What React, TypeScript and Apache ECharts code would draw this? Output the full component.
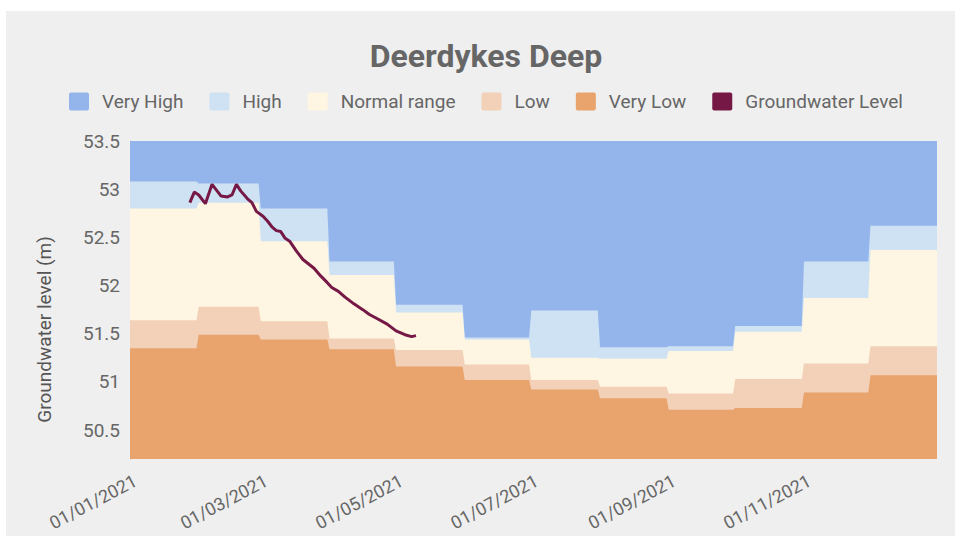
import { useEffect, useRef } from 'react';
import * as echarts from 'echarts';

// ---- data ----
const MONTHS = ['2021-01', '2021-02', '2021-03', '2021-04', '2021-05', '2021-06', '2021-07', '2021-08', '2021-09', '2021-10', '2021-11', '2021-12'];
// upper boundary of each band, per month (m)
const VERY_HIGH_TOP = [53.5, 53.5, 53.5, 53.5, 53.5, 53.5, 53.5, 53.5, 53.5, 53.5, 53.5, 53.5];
const HIGH_TOP = [53.08, 53.06, 52.8, 52.25, 51.8, 51.46, 51.74, 51.36, 51.37, 51.58, 52.25, 52.62];
const NORMAL_TOP = [52.8, 52.86, 52.46, 52.11, 51.72, 51.44, 51.25, 51.24, 51.32, 51.52, 51.87, 52.37];
const LOW_TOP = [51.64, 51.78, 51.63, 51.45, 51.33, 51.18, 51.02, 50.95, 50.88, 51.03, 51.19, 51.37];
const VERY_LOW_TOP = [51.35, 51.49, 51.44, 51.34, 51.16, 51.02, 50.92, 50.83, 50.71, 50.73, 50.89, 51.07];

const GW_DATES = ['2021-01-28', '2021-01-30', '2021-02-01', '2021-02-04', '2021-02-07', '2021-02-09', '2021-02-11', '2021-02-14', '2021-02-16', '2021-02-18', '2021-02-20', '2021-02-23', '2021-02-25', '2021-02-27', '2021-03-02', '2021-03-04', '2021-03-06', '2021-03-08', '2021-03-10', '2021-03-12', '2021-03-14', '2021-03-17', '2021-03-20', '2021-03-25', '2021-03-28', '2021-03-31', '2021-04-02', '2021-04-05', '2021-04-08', '2021-04-12', '2021-04-16', '2021-04-19', '2021-04-23', '2021-04-27', '2021-05-01', '2021-05-05', '2021-05-08', '2021-05-10'];
const GW_VALUES = [52.86, 52.97, 52.94, 52.85, 53.05, 52.99, 52.93, 52.92, 52.94, 53.05, 52.98, 52.9, 52.86, 52.77, 52.72, 52.67, 52.61, 52.57, 52.56, 52.49, 52.46, 52.36, 52.27, 52.18, 52.1, 52.03, 51.98, 51.94, 51.88, 51.81, 51.75, 51.7, 51.65, 51.6, 51.53, 51.49, 51.47, 51.48];

const X_TICKS = ['2021-01-01', '2021-03-01', '2021-05-01', '2021-07-01', '2021-09-01', '2021-11-01'];
const X_MIN = '2021-01-01';
const X_MAX = '2021-12-31';

const FONT = 'Roboto, "Noto Sans", sans-serif';

function ts(s: string): number {
  const [y, m, d] = s.split('-').map(Number);
  return new Date(y, m - 1, d).getTime();
}

function monthSteps(vals: number[]): [number, number][] {
  const out: [number, number][] = [];
  MONTHS.forEach((m, i) => {
    const [y, mo] = m.split('-').map(Number);
    out.push([new Date(y, mo - 1, 1).getTime(), vals[i]]);
    out.push([new Date(y, mo, 0).getTime(), vals[i]]);
  });
  return out;
}

const pad = (n: number) => (n < 10 ? '0' + n : '' + n);

const ICON = 'path://M2,0H18Q20,0,20,2V16Q20,18,18,18H2Q0,18,0,16V2Q0,0,2,0Z';

function band(name: string, color: string, vals: number[]) {
  return {
    name,
    type: 'line',
    data: monthSteps(vals),
    showSymbol: false,
    symbol: 'none',
    silent: true,
    itemStyle: { color },
    lineStyle: { width: 0, color },
    areaStyle: { color, opacity: 1, origin: 'start' },
    emphasis: { disabled: true },
  };
}

export default function App() {
  const ref = useRef<HTMLDivElement>(null);
  useEffect(() => {
    if (!ref.current) return;
    const chart = echarts.init(ref.current, undefined, { renderer: 'svg' });
    chart.setOption({
      animation: false,
      backgroundColor: '#efefef',
      title: {
        text: 'Deerdykes Deep',
        left: 'center',
        top: 24,
        textStyle: { fontFamily: FONT, fontSize: 32, fontWeight: 'bold', color: '#666' },
      },
      legend: {
        top: 76,
        left: 'center',
        icon: ICON,
        itemWidth: 20,
        itemHeight: 18,
        itemGap: 26,
        textStyle: { fontFamily: FONT, fontSize: 19, color: '#666', padding: [0, 0, 0, 8] },
        data: ['Very High', 'High', 'Normal range', 'Low', 'Very Low', 'Groundwater Level'],
      },
      grid: { left: 124, right: 29, top: 130, bottom: 77, outerBoundsMode: 'none' },
      xAxis: {
        type: 'value',
        min: ts(X_MIN),
        max: ts(X_MAX),
        axisLine: { show: false },
        axisTick: { show: false },
        splitLine: { show: false },
        axisLabel: {
          customValues: X_TICKS.map(ts),
          formatter: (v: number) => {
            const d = new Date(v);
            return pad(d.getDate()) + '/' + pad(d.getMonth() + 1) + '/' + d.getFullYear();
          },
          rotate: 28,
          margin: 23,
          padding: [0, -6, 0, 0],
          fontFamily: FONT,
          fontSize: 18,
          color: '#666',
        },
      },
      yAxis: {
        type: 'value',
        min: 50.2,
        max: 53.5,
        name: 'Groundwater level (m)',
        nameLocation: 'middle',
        nameGap: 76,
        nameTextStyle: { fontFamily: FONT, fontSize: 19, color: '#555', padding: [0, 59, 0, 0] },
        axisLine: { show: true, lineStyle: { color: '#c4c4c4', width: 1 } },
        axisTick: { show: false },
        splitLine: { show: false },
        axisLabel: {
          showMinLabel: false,
          margin: 10,
          fontFamily: FONT,
          fontSize: 19,
          color: '#666',
        },
      },
      series: [
        band('Very High', '#94b5eb', VERY_HIGH_TOP),
        band('High', '#cfe2f3', HIGH_TOP),
        band('Normal range', '#fef6e2', NORMAL_TOP),
        band('Low', '#f2d1b8', LOW_TOP),
        band('Very Low', '#e9a36c', VERY_LOW_TOP),
        {
          name: 'Groundwater Level',
          type: 'line',
          data: GW_DATES.map((d, i) => [ts(d), GW_VALUES[i]]),
          showSymbol: false,
          symbol: 'none',
          itemStyle: { color: '#761845' },
          lineStyle: { width: 3, color: '#761845' },
          z: 5,
        },
      ],
    });
    return () => chart.dispose();
  }, []);
  return (
    <div style={{ position: 'absolute', left: 0, top: 0, width: 955, height: 536, overflow: 'hidden', background: '#fff' }}>
      <div ref={ref} style={{ position: 'absolute', left: 6, top: 11, width: 960, height: 525 }} />
    </div>
  );
}
